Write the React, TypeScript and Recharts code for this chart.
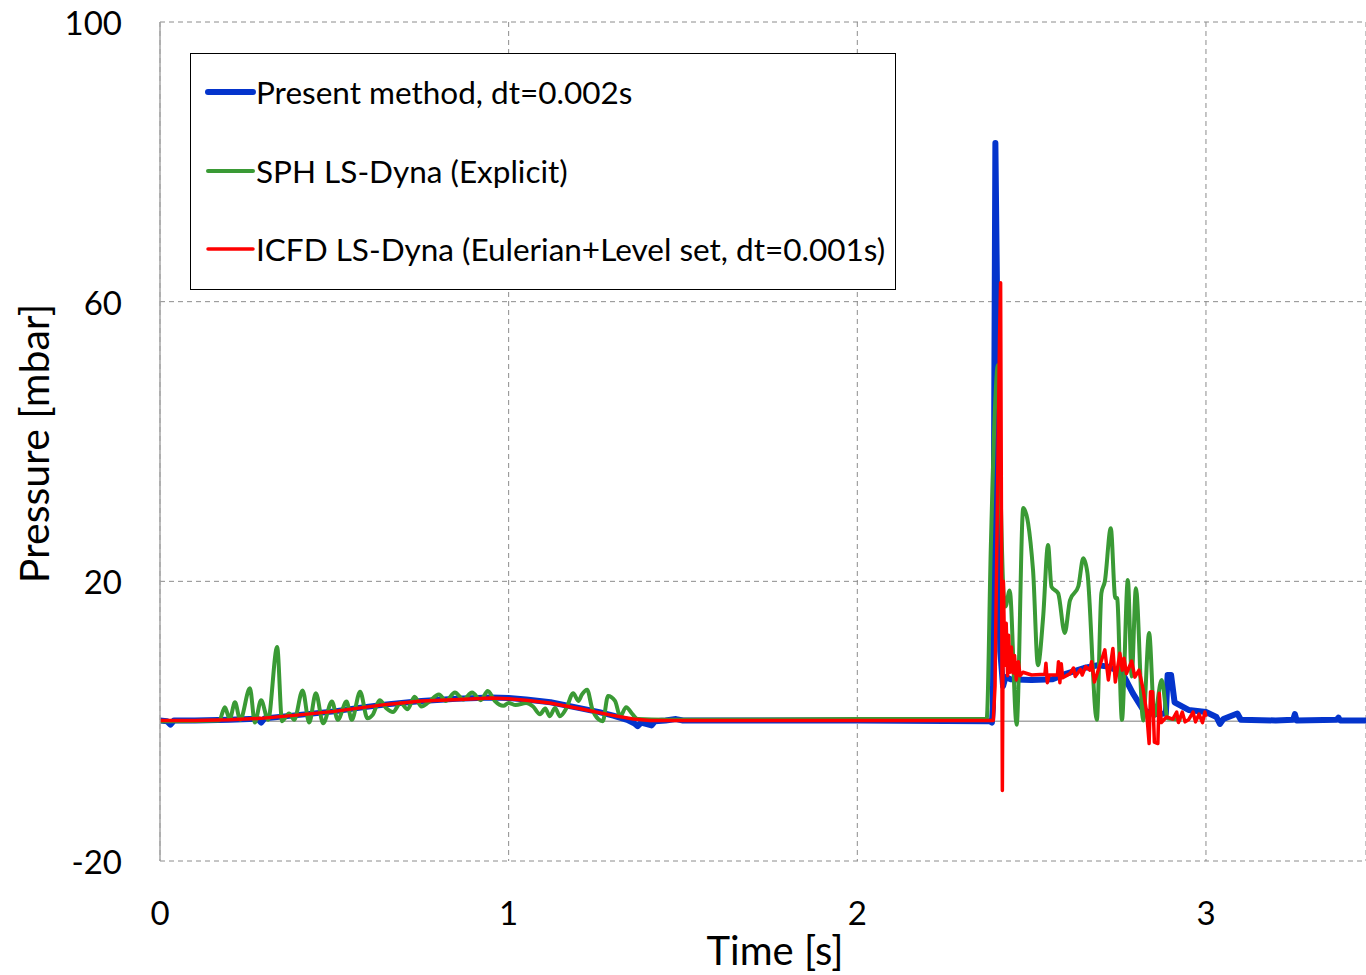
import { LineChart, Line, XAxis, YAxis, CartesianGrid, ReferenceLine, Legend, Label } from 'recharts'

const FONT = 'Lato, "Open Sans", sans-serif'

const xTicks = [0, 1, 2, 3]
const yTicks = [-20, 20, 60, 100]
const xMax = 3.459

const seriesNames = [
  'Present method, dt=0.002s',
  'SPH LS-Dyna (Explicit)',
  'ICFD LS-Dyna (Eulerian+Level set, dt=0.001s)',
]
const seriesColors = ['#0434cc', '#3a9a35', '#ff0000']

// [time s, pressure mbar]
const presentMethod: [number, number][] = [
  [0, 0.1], [0.02, 0.0], [0.03, -0.5], [0.04, 0.1], [0.1, 0.1], [0.2, 0.2], [0.28, 0.35], [0.29, -0.2],
  [0.3, 0.4], [0.4, 0.9], [0.5, 1.4], [0.57, 1.9], [0.65, 2.4], [0.75, 2.9], [0.85, 3.2], [0.95, 3.4],
  [1.0, 3.3], [1.05, 3.1], [1.12, 2.7], [1.2, 1.9], [1.26, 1.3], [1.3, 0.8], [1.34, 0.2], [1.36, -0.3],
  [1.37, -0.7], [1.38, -0.2], [1.41, -0.6], [1.42, 0], [1.45, 0.1], [1.48, 0.3], [1.5, 0.1], [2.0, 0.1],
  [2.38, 0.0], [2.386, -0.2], [2.389, 2], [2.396, 82.7], [2.401, 60], [2.405, 25], [2.41, 10], [2.418, 5],
  [2.425, 6.3], [2.44, 6.0], [2.5, 5.9], [2.56, 6.0], [2.6, 6.8], [2.65, 7.6], [2.69, 8.0], [2.72, 7.8],
  [2.76, 6.9], [2.79, 4.0], [2.82, 1.6], [2.85, 1.0], [2.885, 1.1], [2.89, 6.6], [2.9, 6.6], [2.91, 2.7],
  [2.95, 1.6], [3.0, 1.3], [3.03, 0.6], [3.04, -0.4], [3.05, 0.3], [3.09, 1.1], [3.1, 0.2], [3.2, 0.1],
  [3.25, 0.2], [3.255, 1.0], [3.26, 0.1], [3.375, 0.2], [3.38, 0.5], [3.385, 0.1], [3.46, 0.1],
]

const sphExplicit: [number, number][] = [
  [0, 0], [0.17, 0.1], [0.186, 2.0], [0.2, 0.3], [0.215, 2.7], [0.23, 0.2], [0.258, 4.7], [0.272, -0.2],
  [0.29, 3.0], [0.31, 0.2], [0.336, 10.6], [0.35, 0.0], [0.37, 1.1], [0.385, 0.2], [0.409, 4.4],
  [0.428, -0.2], [0.447, 4.0], [0.468, -0.3], [0.493, 2.8], [0.51, 0.2], [0.535, 2.8], [0.55, 0.2],
  [0.574, 4.2], [0.595, 0.4], [0.61, 0.9], [0.63, 3.0], [0.65, 1.8], [0.668, 1.3], [0.69, 2.6], [0.71, 1.7],
  [0.73, 3.5], [0.75, 2.1], [0.77, 2.7], [0.8, 3.8], [0.82, 2.9], [0.846, 4.1], [0.87, 3.1], [0.895, 4.1],
  [0.92, 3.0], [0.94, 4.3], [0.96, 2.9], [0.985, 2.2], [1.0, 2.6], [1.02, 2.3], [1.05, 2.6], [1.07, 2.1],
  [1.09, 1.0], [1.105, 1.8], [1.118, 0.7], [1.133, 1.9], [1.147, 0.7], [1.165, 1.8], [1.185, 4.0],
  [1.2, 2.9], [1.21, 3.8], [1.225, 4.5], [1.24, 1.7], [1.257, 0.3], [1.27, 0.0], [1.285, 3.6], [1.305, 2.9],
  [1.32, 0.7], [1.337, 2.0], [1.355, 1.0], [1.37, 0.3], [1.45, 0.2], [2.0, 0.3], [2.371, 0.3], [2.383, 25],
  [2.395, 45], [2.403, 50.9], [2.41, 35], [2.419, 18.7], [2.425, 16.4], [2.437, 18.7], [2.457, -0.5],
  [2.476, 30.5], [2.504, 21.6], [2.518, 8.0], [2.533, 14.9], [2.547, 25.2], [2.557, 19.2], [2.576, 18.3],
  [2.595, 12.6], [2.61, 17.3], [2.634, 19.3], [2.648, 23.3], [2.66, 21.2], [2.687, 0.2], [2.7, 18.3],
  [2.71, 20.0], [2.727, 27.6], [2.74, 17.6], [2.745, 17.6], [2.759, 0.2], [2.776, 20.2], [2.787, 6.4],
  [2.799, 19.0], [2.82, 0.1], [2.837, 12.6], [2.852, 0.7], [2.873, 5.9], [2.89, 0.4], [2.93, 0.2],
]

const icfdLevelSet: [number, number][] = [
  [0, 0.1], [0.1, 0.1], [0.2, 0.2], [0.29, 0.4], [0.4, 0.9], [0.5, 1.4], [0.574, 1.9], [0.65, 2.4],
  [0.75, 2.9], [0.86, 3.1], [0.95, 3.3], [1.0, 3.2], [1.05, 3.0], [1.118, 2.6], [1.213, 1.7], [1.29, 0.9],
  [1.357, 0.3], [1.405, 0.1], [2.0, 0.1], [2.39, 0.1], [2.395, 5], [2.408, 55], [2.411, 62.7], [2.414, 20],
  [2.416, -9.9], [2.419, 20], [2.423, 8], [2.427, 14], [2.431, 6.5], [2.434, 12.3], [2.438, 7], [2.442, 10.6],
  [2.447, 6.9], [2.451, 9.4], [2.456, 5.9], [2.462, 8.5], [2.467, 6.5], [2.475, 7], [2.5, 6.6], [2.538, 6.7],
  [2.541, 8.3], [2.545, 5.5], [2.55, 6.6], [2.574, 6.6], [2.577, 8.5], [2.581, 5.5], [2.585, 8.2],
  [2.589, 6.2], [2.61, 6.8], [2.62, 7.6], [2.625, 6.4], [2.64, 7.4], [2.645, 6.6], [2.655, 7.8], [2.667, 7.3],
  [2.672, 8.5], [2.68, 5.6], [2.71, 10.2], [2.72, 5.9], [2.733, 10.4], [2.74, 5.6], [2.753, 9.7],
  [2.76, 7.3], [2.765, 9.0], [2.772, 6.8], [2.787, 8.6], [2.796, 6.3], [2.808, 7.3], [2.82, 4.5],
  [2.83, 1.2], [2.837, -3.2], [2.841, 4.2], [2.847, 4.2], [2.852, -3.0], [2.862, -3.2], [2.866, 4.0],
  [2.872, -0.2], [2.887, 0.6], [2.905, 0.3], [2.916, 1.3], [2.921, -0.2], [2.932, 1.3], [2.94, -0.1],
  [2.95, 0.2], [2.963, 1.3], [2.97, -0.1], [2.98, 1.0], [2.99, -0.2], [2.997, 1.3], [3.0, 0.6],
]

const seriesData = [presentMethod, sphExplicit, icfdLevelSet].map((pts) => pts.map(([t, p]) => ({ t, p })))
const seriesWidths = [6, 4, 3.5]
const seriesCurves: ('linear' | 'monotone')[] = ['linear', 'monotone', 'linear']

const XTick = (props: any) => {
  const { x, y, payload } = props
  return (
    <text x={x} y={y + 51} textAnchor="middle" dominantBaseline="central" fontFamily={FONT} fontSize={33} fill="#000">
      {payload.value}
    </text>
  )
}

const YTick = (props: any) => {
  const { x, y, payload } = props
  return (
    <text x={x - 38} y={y} textAnchor="end" dominantBaseline="central" fontFamily={FONT} fontSize={33} fill="#000">
      {payload.value}
    </text>
  )
}

const XTitle = (props: any) => {
  const { viewBox } = props
  return (
    <text x={775} y={viewBox.y + viewBox.height - 25} textAnchor="middle" dominantBaseline="central" fontFamily={FONT} fontSize={40} fill="#000">
      Time [s]
    </text>
  )
}

const YTitle = (props: any) => {
  const { viewBox } = props
  const cx = 33
  const cy = viewBox.y + viewBox.height / 2 + 2
  return (
    <text x={cx} y={cy} transform={`rotate(-90, ${cx}, ${cy})`} textAnchor="middle" dominantBaseline="central" fontFamily={FONT} fontSize={41} fill="#000">
      Pressure [mbar]
    </text>
  )
}

const legendRowCenters = [38, 117, 195]

const renderLegend = () => (
  <div
    style={{
      width: 706,
      height: 237,
      border: '1px solid #000',
      background: '#fff',
      boxSizing: 'border-box',
      position: 'relative',
      fontFamily: FONT,
      fontSize: 31.5,
      color: '#000',
    }}
  >
    {seriesNames.map((name, i) => (
      <div
        key={name}
        style={{
          position: 'absolute',
          left: 13,
          top: legendRowCenters[i] - 22,
          height: 44,
          display: 'flex',
          alignItems: 'center',
          whiteSpace: 'nowrap',
        }}
      >
        <svg width={52} height={10}>
          <line x1={4} y1={5} x2={49} y2={5} stroke={seriesColors[i]} strokeWidth={seriesWidths[i]} strokeLinecap="round" />
        </svg>
        <span>{name}</span>
      </div>
    ))}
  </div>
)

export default function App() {
  return (
    <div style={{ position: 'absolute', left: 0, top: 0, width: 1366, height: 975, background: '#fff' }}>
      <LineChart width={1366} height={975} margin={{ top: 22, right: 0, left: 0, bottom: 0 }}>
        <CartesianGrid stroke="#8c8c8c" strokeDasharray="5 4" strokeWidth={1} />
        <XAxis
          type="number"
          dataKey="t"
          domain={[0, xMax]}
          ticks={xTicks}
          allowDataOverflow
          height={114}
          axisLine={false}
          tickLine={false}
          tickSize={0}
          tickMargin={0}
          tick={<XTick />}
        >
          <Label content={<XTitle />} />
        </XAxis>
        <YAxis
          type="number"
          domain={[-20, 100]}
          ticks={yTicks}
          width={160}
          axisLine={{ stroke: '#a6a6a6', strokeWidth: 1.5 }}
          tickLine={false}
          tickSize={0}
          tickMargin={0}
          tick={<YTick />}
        >
          <Label content={<YTitle />} />
        </YAxis>
        <ReferenceLine y={0} stroke="#a6a6a6" strokeWidth={1.5} />
        {seriesData.map((d, i) => (
          <Line
            key={seriesNames[i]}
            data={d}
            dataKey="p"
            name={seriesNames[i]}
            type={seriesCurves[i]}
            stroke={seriesColors[i]}
            strokeWidth={seriesWidths[i]}
            strokeLinejoin="round"
            dot={false}
            activeDot={false}
            isAnimationActive={false}
          />
        ))}
        <Legend
          layout="vertical"
          verticalAlign="middle"
          align="center"
          content={renderLegend}
          wrapperStyle={{ left: 190, top: 53, width: 706, height: 237 }}
        />
      </LineChart>
    </div>
  )
}
